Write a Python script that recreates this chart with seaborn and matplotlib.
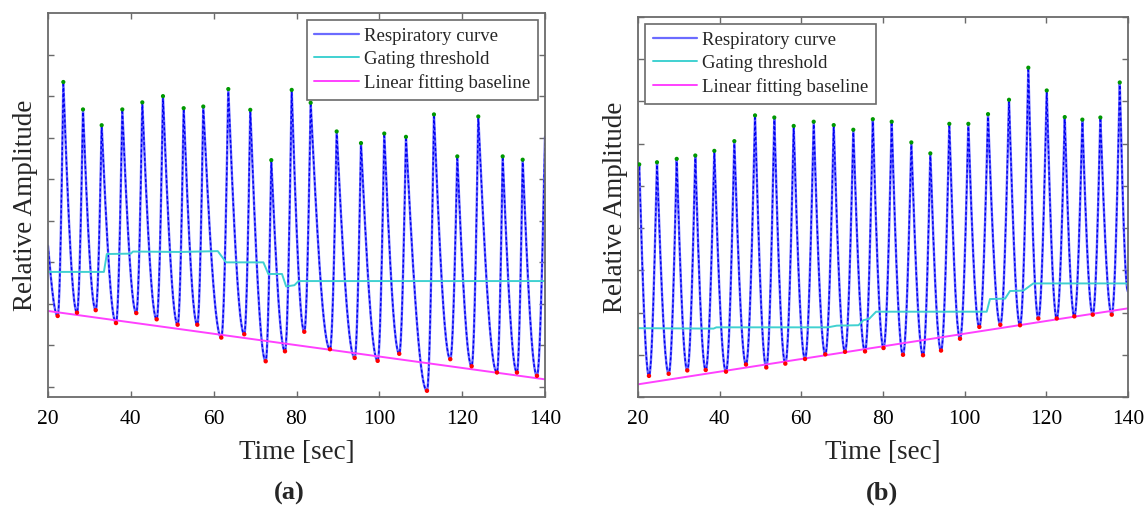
import numpy as np
import pandas as pd
import matplotlib
matplotlib.use("Agg")
import matplotlib.pyplot as plt
import seaborn as sns
from matplotlib.lines import Line2D

# ---------------- Data: panel (a) ----------------
a_peak_t = [23.7, 28.45, 32.96, 37.94, 42.77, 47.76, 52.76, 57.49, 63.53, 68.84, 73.91,
            78.84, 83.42, 89.70, 95.57, 101.19, 106.43, 113.19, 118.82, 123.89, 129.78, 134.61]
a_peak_v = [7.34, 6.68, 6.30, 6.68, 6.85, 7.00, 6.71, 6.75, 7.17, 6.67, 5.46,
            7.15, 6.84, 6.15, 5.87, 6.10, 6.02, 6.56, 5.55, 6.51, 5.55, 5.47]
a_trough_t = [22.34, 27.00, 31.52, 36.42, 41.32, 46.24, 51.31, 56.05, 61.84, 67.39, 72.56, 77.22,
              81.88, 88.08, 94.05, 99.60, 104.81, 111.50, 117.13, 122.29, 128.40, 133.23, 138.06]
a_trough_v = [1.71, 1.79, 1.85, 1.54, 1.78, 1.63, 1.50, 1.50, 1.19, 1.27, 0.62, 0.86,
              1.33, 0.91, 0.70, 0.63, 0.80, -0.09, 0.67, 0.50, 0.35, 0.35, 0.27]
a_ends_t = [20.0, 140.0]
a_ends_v = [3.40, 6.02]
a_thr_t = [20, 33.5, 34.2, 40.0, 40.5, 52.0, 61.0, 63.0, 72.0, 73.2, 76.5, 77.5, 79.5, 80.5, 140]
a_thr_v = [2.77, 2.77, 3.20, 3.21, 3.26, 3.25, 3.27, 3.00, 3.00, 2.72, 2.72, 2.42, 2.45, 2.55, 2.55]
a_base_t = [20, 140]
a_base_v = [1.83, 0.185]

# ---------------- Data: panel (b) ----------------
b_peak_t = [20.3, 24.65, 29.48, 34.03, 38.69, 43.59, 48.66, 53.38, 58.13, 63.03, 67.93, 72.73, 77.51,
            82.13, 86.94, 91.59, 96.24, 100.90, 105.72, 110.86, 115.59, 120.10, 124.51, 128.82, 133.23, 137.98]
b_peak_v = [5.51, 5.56, 5.64, 5.72, 5.83, 6.06, 6.67, 6.62, 6.42, 6.52, 6.44, 6.33, 6.58,
            6.52, 6.03, 5.77, 6.47, 6.47, 6.70, 7.04, 7.80, 7.26, 6.63, 6.57, 6.62, 7.45]
b_trough_t = [22.69, 27.52, 32.07, 36.58, 41.55, 46.45, 51.42, 56.08, 60.90, 65.87, 70.70, 75.60, 80.13,
              84.90, 89.80, 94.21, 98.86, 103.59, 108.73, 113.56, 118.04, 122.55, 126.86, 131.37, 136.02]
b_trough_v = [0.50, 0.55, 0.63, 0.64, 0.60, 0.77, 0.70, 0.79, 0.90, 1.01, 1.07, 1.08, 1.16,
              1.00, 0.99, 1.10, 1.38, 1.66, 1.71, 1.70, 1.86, 1.86, 1.91, 1.95, 1.95]
b_ends_t = [20.0, 140.0]
b_ends_v = [5.20, 2.50]
b_thr_t = [20, 38.5, 39.2, 66.5, 68.7, 74.0, 75.2, 76.6, 78.3, 105.4, 106.2, 109.9, 111.1, 114.4, 116.8, 140]
b_thr_v = [1.63, 1.62, 1.65, 1.65, 1.69, 1.70, 1.82, 1.85, 2.02, 2.02, 2.32, 2.33, 2.51, 2.52, 2.69, 2.69]
b_base_t = [20, 140]
b_base_v = [0.30, 2.10]

x_ticks = [20, 40, 60, 80, 100, 120, 140]
legend_labels = ["Respiratory curve", "Gating threshold", "Linear fitting baseline"]

BLUE_LIGHT = (0.42, 0.42, 1.0)
BLUE = (0.0, 0.0, 0.95)
CYAN = (0.25, 0.82, 0.82)
MAGENTA = (1.0, 0.25, 1.0)
SPINE = "#6a6a6a"


def breathing_curve(peak_t, peak_v, trough_t, trough_v, ends_t, ends_v, n=50):
    """Join the read extrema with cusp-peaked / round-bottomed strokes."""
    kt = np.array(list(peak_t) + list(trough_t) + list(ends_t), dtype=float)
    kv = np.array(list(peak_v) + list(trough_v) + list(ends_v), dtype=float)
    order = np.argsort(kt)
    kt, kv = kt[order], kv[order]
    ts, vs = [], []
    for t0, t1, v0, v1 in zip(kt[:-1], kt[1:], kv[:-1], kv[1:]):
        u = np.linspace(0, 1, n, endpoint=False)
        if v1 > v0:
            y = v0 + (v1 - v0) * (1 - np.cos(np.pi * u / 2))
        else:
            y = v0 - (v0 - v1) * np.sin(np.pi * u / 2)
        ts.append(t0 + (t1 - t0) * u)
        vs.append(y)
    ts.append([kt[-1]])
    vs.append([kv[-1]])
    return pd.DataFrame({"t": np.concatenate(ts), "v": np.concatenate(vs)})


sns.set_style("white")
plt.rcParams["font.family"] = ["Liberation Serif", "DejaVu Serif"]
plt.rcParams["mathtext.fontset"] = "stix"

fig = plt.figure(figsize=(11.45, 5.07), dpi=100)
ax_a = fig.add_axes([48 / 1145, 1 - 397 / 507, (545 - 48) / 1145, (397 - 13) / 507])
ax_b = fig.add_axes([638 / 1145, 1 - 397 / 507, (1128 - 638) / 1145, (397 - 17) / 507])

panels = [
    (ax_a, a_peak_t, a_peak_v, a_trough_t, a_trough_v, a_ends_t, a_ends_v,
     a_thr_t, a_thr_v, a_base_t, a_base_v, (-0.24, 9.0), list(range(0, 9)), "upper right"),
    (ax_b, b_peak_t, b_peak_v, b_trough_t, b_trough_v, b_ends_t, b_ends_v,
     b_thr_t, b_thr_v, b_base_t, b_base_v, (0.0, 9.0), list(range(0, 10)), "upper left"),
]

for (ax, pt, pv, tt, tv, et, ev, tht, thv, bt, bv, ylim, yticks, loc) in panels:
    curve = breathing_curve(pt, pv, tt, tv, et, ev)
    sns.lineplot(data=curve, x="t", y="v", ax=ax, color=BLUE_LIGHT, lw=1.7,
                 sort=False, estimator=None, legend=False)
    sns.lineplot(data=curve, x="t", y="v", ax=ax, color=BLUE, lw=1.0,
                 sort=False, estimator=None, legend=False, dashes=False,
                 linestyle=(0, (2.2, 1.6)))
    sns.lineplot(x=tht, y=thv, ax=ax, color=CYAN, lw=1.4, sort=False,
                 estimator=None, legend=False)
    sns.lineplot(x=bt, y=bv, ax=ax, color=MAGENTA, lw=1.4, sort=False,
                 estimator=None, legend=False)
    sns.scatterplot(x=pt, y=pv, ax=ax, color=(0.0, 0.6, 0.0), s=9, edgecolor="none",
                    legend=False, zorder=5)
    sns.scatterplot(x=tt, y=tv, ax=ax, color=(1.0, 0.0, 0.0), s=10, edgecolor="none",
                    legend=False, zorder=5)

    ax.set_xlim(20, 140)
    ax.set_ylim(*ylim)
    ax.set_xticks(x_ticks)
    ax.set_xticklabels([str(v) for v in x_ticks])
    ax.set_yticks(yticks)
    ax.set_yticklabels([])
    ax.tick_params(axis="both", direction="in", length=4, width=1.0, color=SPINE,
                   top=True, right=True, bottom=True, left=True,
                   labelsize=15.5, labelcolor="black", pad=9)
    for s in ax.spines.values():
        s.set_visible(True)
        s.set_color(SPINE)
        s.set_linewidth(1.3)
    ax.set_xlabel("Time [sec]", fontsize=19.5, labelpad=8)
    ax.set_ylabel("Relative Amplitude", fontsize=19.5, labelpad=-1.5)

    handles = [Line2D([], [], color=BLUE_LIGHT, lw=1.6),
               Line2D([], [], color=CYAN, lw=1.4),
               Line2D([], [], color=MAGENTA, lw=1.4)]
    leg = ax.legend(handles, legend_labels, loc=loc, fontsize=13.5, frameon=True,
                    fancybox=False, framealpha=1, edgecolor=SPINE,
                    handlelength=2.35, handletextpad=0.3, labelspacing=0.32,
                    borderpad=0.42, borderaxespad=0.36)
    leg.get_frame().set_linewidth(1.2)

fig.text(289 / 1145, 1 - 493 / 507, "(a)", fontsize=19, fontweight="bold",
         ha="center", va="center")
fig.text(882 / 1145, 1 - 493 / 507, "(b)", fontsize=19, fontweight="bold",
         ha="center", va="center")

fig.savefig("out.png", dpi=100)
